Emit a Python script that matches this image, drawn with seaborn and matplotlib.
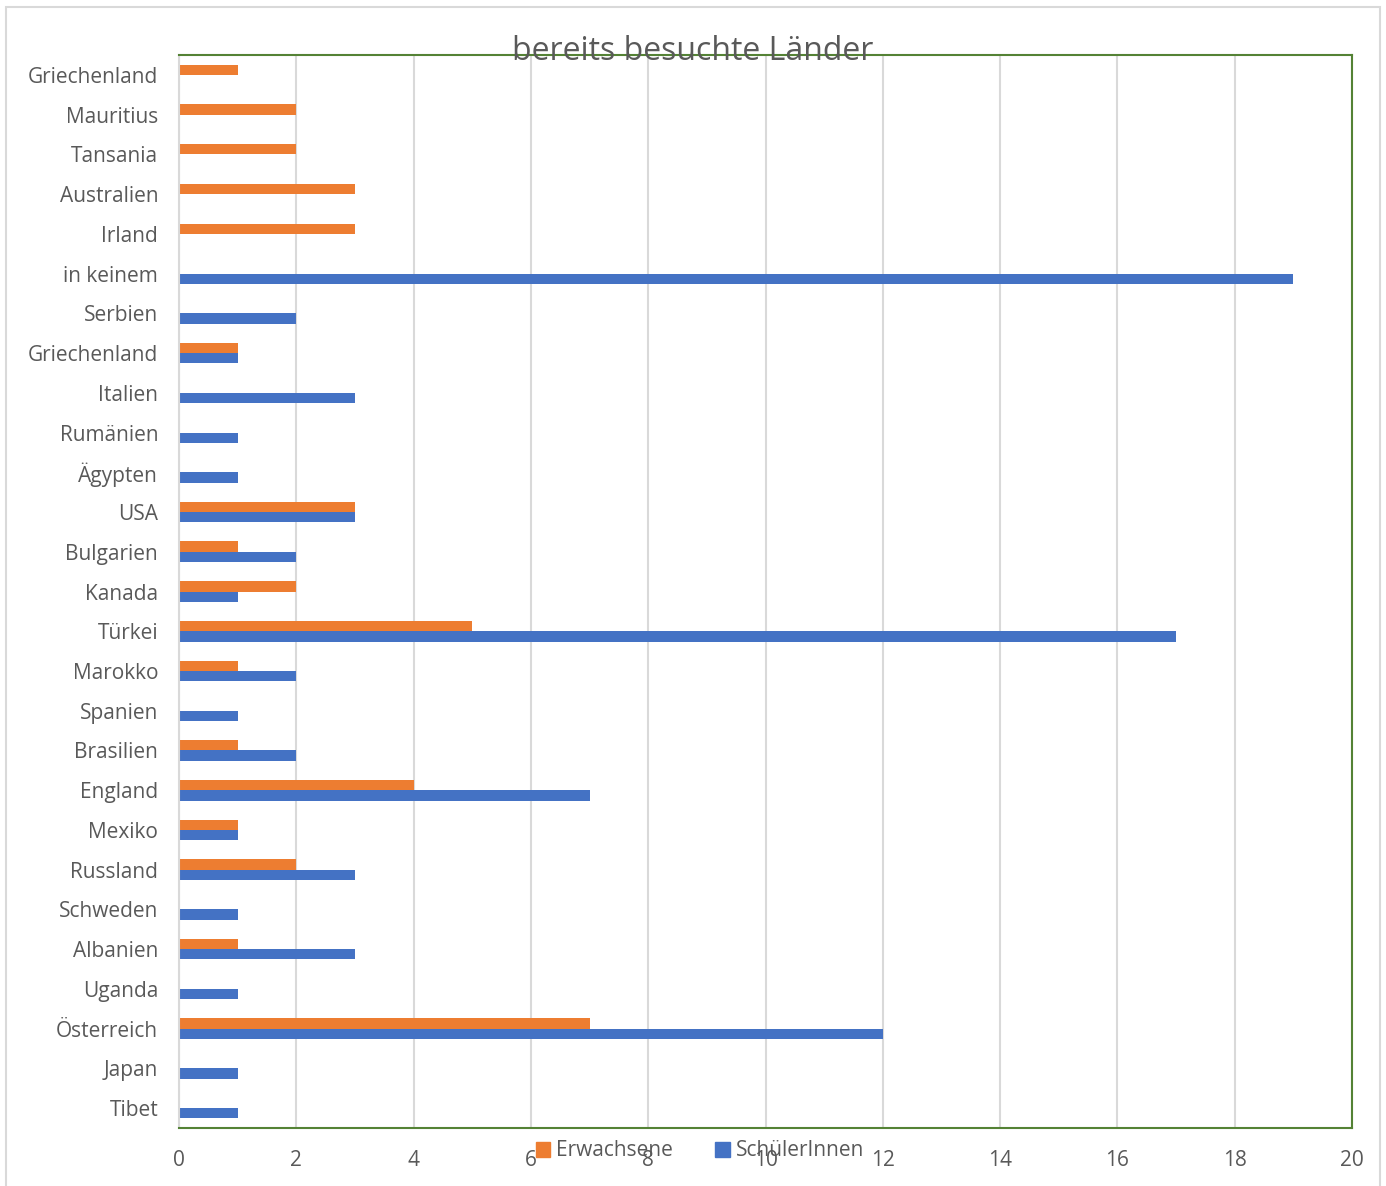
import matplotlib
matplotlib.use("Agg")
import matplotlib.pyplot as plt
import matplotlib.patches as mpatches
import pandas as pd
import seaborn as sns

countries = ["Griechenland", "Mauritius", "Tansania", "Australien", "Irland",
             "in keinem", "Serbien", "Griechenland", "Italien", "Rumänien",
             "Ägypten", "USA", "Bulgarien", "Kanada", "Türkei", "Marokko",
             "Spanien", "Brasilien", "England", "Mexiko", "Russland",
             "Schweden", "Albanien", "Uganda", "Österreich", "Japan", "Tibet"]
erwachsene = [1, 2, 2, 3, 3, 0, 0, 1, 0, 0, 0, 3, 1, 2, 5, 1, 0, 1, 4, 1, 2,
              0, 1, 0, 7, 0, 0]
schueler = [0, 0, 0, 0, 0, 19, 2, 1, 3, 1, 1, 3, 2, 1, 17, 2, 1, 2, 7, 1, 3,
            1, 3, 1, 12, 1, 1]
series = ["Erwachsene", "SchülerInnen"]
colors = {"Erwachsene": "#ED7D31", "SchülerInnen": "#4472C4"}

keys = [str(i) for i in range(len(countries))]
df = pd.DataFrame({"key": keys * 2,
                   "value": erwachsene + schueler,
                   "group": ["Erwachsene"] * len(keys) + ["SchülerInnen"] * len(keys)})

sns.set_theme(style="white")
plt.rcParams['font.family'] = ['Open Sans', 'DejaVu Sans']
text_color = "#595959"

fig = plt.figure(figsize=(13.86, 11.86), dpi=100)
ax = fig.add_axes([179 / 1386, 1 - 1128 / 1186, (1352 - 179) / 1386, (1128 - 55) / 1186])

sns.barplot(data=df, x="value", y="key", hue="group", order=keys,
            hue_order=series, palette=colors, orient="h", width=0.52,
            saturation=1, linewidth=0, legend=False, ax=ax)

ax.set_xlim(0, 20)
ax.set_ylim(len(keys) - 0.5, -0.5)
ax.set_xticks(range(0, 21, 2))
ax.set_yticks(range(len(keys)))
ax.set_yticklabels(countries)
ax.xaxis.grid(True, color="#D9D9D9", linewidth=1.5)
ax.set_axisbelow(True)
ax.set_xlabel("")
ax.set_ylabel("")
ax.tick_params(axis="x", length=0, pad=16, labelsize=15, labelcolor=text_color)
ax.tick_params(axis="y", length=0, pad=15, labelsize=15, labelcolor=text_color)

for side in ["top", "right", "bottom"]:
    ax.spines[side].set_color("#548235")
    ax.spines[side].set_linewidth(1.5)
ax.spines["left"].set_color("#D9D9D9")
ax.spines["left"].set_linewidth(1.5)

fig.text(0.5, 1 - 52 / 1186, "bereits besuchte Länder", ha="center", va="center",
         fontsize=23, color=text_color)

handles = [mpatches.Patch(color=colors[s], label=s) for s in series]
fig.legend(handles=handles, loc="center", bbox_to_anchor=(0.505, 1 - 1151 / 1186),
           ncol=2, frameon=False, fontsize=15, labelcolor=text_color,
           handlelength=0.7, handleheight=0.7, handletextpad=0.3, columnspacing=2.0)

fig.patches.append(mpatches.Rectangle((6 / 1386, -0.01), 1374 / 1386, 1 - 7 / 1186 + 0.01,
                                      transform=fig.transFigure, fill=False,
                                      edgecolor="#D9D9D9", linewidth=1.5))

fig.savefig("out.png", dpi=100)
